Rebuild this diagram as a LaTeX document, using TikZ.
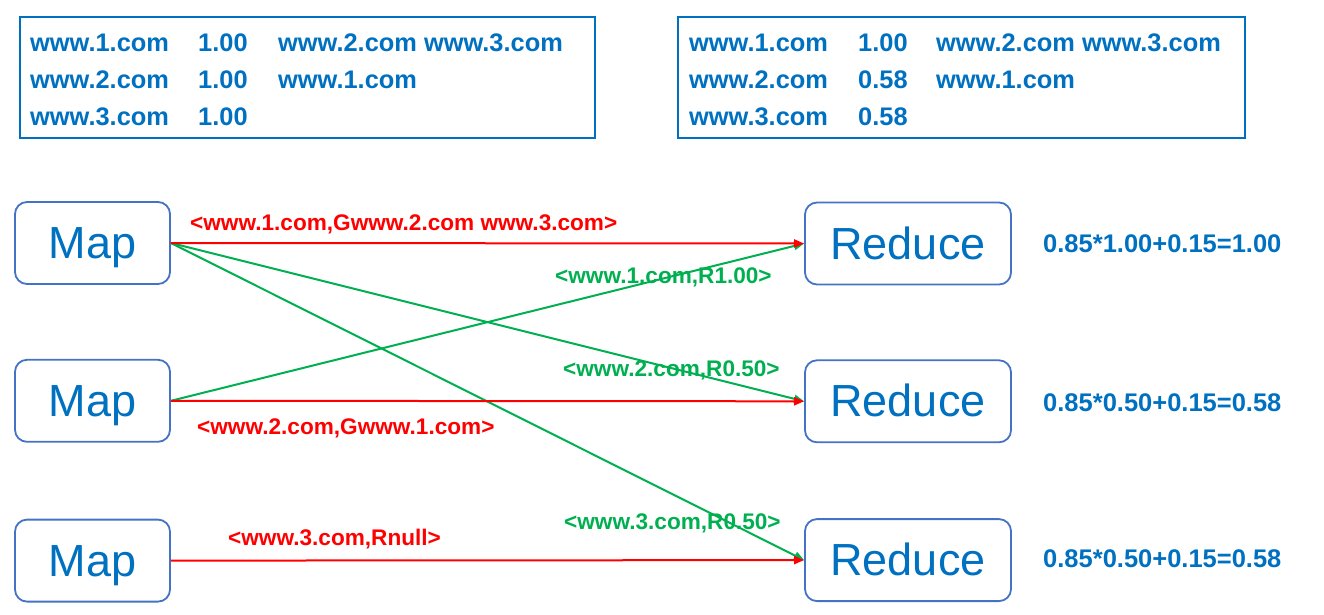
\documentclass[tikz,border=0pt]{standalone}
\usepackage{fontspec}
\setmainfont{Liberation Sans}
\usepackage{xcolor}
\usepackage{tikz}
\usetikzlibrary{arrows.meta, positioning}

\definecolor{txtblue}{HTML}{0070C0}
\definecolor{boxblue}{HTML}{4472C4}
\definecolor{lblred}{HTML}{FF0000}
\definecolor{lblgreen}{HTML}{00B050}

\begin{document}
\begin{tikzpicture}[x=1pt, y=-1pt,
			tablebox/.style={draw=txtblue, line width=2pt, rectangle, minimum height=121pt},
			entry/.style={anchor=base west, inner sep=0pt, text=txtblue, font=\fontsize{25.4}{30}\selectfont\bfseries},
			mapbox/.style={draw=boxblue, line width=1.8pt, rounded corners=12pt, minimum width=155pt, minimum height=82pt, text=txtblue, text height=31pt, text depth=0pt, font=\fontsize{45}{50}\selectfont},
			reducebox/.style={mapbox, minimum width=206pt},
			redlbl/.style={anchor=base west, inner sep=0pt, text=lblred, font=\fontsize{22.6}{26}\selectfont\bfseries},
			greenlbl/.style={redlbl, text=lblgreen},
			sumlbl/.style={entry, font=\fontsize{25.5}{30}\selectfont\bfseries},
			flow/.style={line width=2pt, -{Triangle[length=10pt, width=8pt]}}
			]
			\useasboundingbox (0,0) rectangle (1324,615);

			% page rank tables
			\node [tablebox, minimum width=575pt](t1) at (307.5,77.5) {};
			\node [tablebox, minimum width=567pt](t2) at (961.5,77.5) {};

			\node [entry](a11) at (30,52) {www.1.com};
			\node [entry](a12) at (198,52) {1.00};
			\node [entry](a13) at (278,52) {www.2.com www.3.com};
			\node [entry](a21) at (30,88.5) {www.2.com};
			\node [entry](a22) at (198,88.5) {1.00};
			\node [entry](a23) at (278,88.5) {www.1.com};
			\node [entry](a31) at (30,125) {www.3.com};
			\node [entry](a32) at (198,125) {1.00};

			\node [entry](b11) at (689,52) {www.1.com};
			\node [entry](b12) at (858,52) {1.00};
			\node [entry](b13) at (936,52) {www.2.com www.3.com};
			\node [entry](b21) at (689,88.5) {www.2.com};
			\node [entry](b22) at (858,88.5) {0.58};
			\node [entry](b23) at (936,88.5) {www.1.com};
			\node [entry](b31) at (689,125) {www.3.com};
			\node [entry](b32) at (858,125) {0.58};

			% map and reduce tasks
			\node [mapbox](m1) at (92.5,243) {Map};
			\node [mapbox](m2) [below=74pt of m1] {Map};
			\node [mapbox](m3) [below=76pt of m2] {Map};
			\node [reducebox](r1) at (908,243.5) {Reduce};
			\node [reducebox](r2) [below=74pt of r1] {Reduce};
			\node [reducebox](r3) [below=75pt of r2] {Reduce};

			\node [sumlbl](s1) at (1043,252) {0.85*1.00+0.15=1.00};
			\node [sumlbl](s2) at (1043,411) {0.85*0.50+0.15=0.58};
			\node [sumlbl](s3) at (1043,567) {0.85*0.50+0.15=0.58};

			\draw[flow, lblgreen] (m1.east) -- (r2.west);
			\draw[flow, lblgreen] (m1.east) -- (r3.west);
			\draw[flow, lblgreen] (m2.east) -- (r1.west);
			\draw[flow, lblred] (m1.east) -- (r1.west);
			\draw[flow, lblred] (m2.east) -- (r2.west);
			\draw[flow, lblred] (m3.east) -- (r3.west);

			% key value pairs
			\node [redlbl](k1) at (190,230.5) {<www.1.com,Gwww.2.com www.3.com>};
			\node [greenlbl](k2) at (555,283) {<www.1.com,R1.00>};
			\node [greenlbl](k3) at (563,376) {<www.2.com,R0.50>};
			\node [redlbl](k4) at (197,434) {<www.2.com,Gwww.1.com>};
			\node [greenlbl](k5) at (564,529) {<www.3.com,R0.50>};
			\node [redlbl](k6) at (228,545) {<www.3.com,Rnull>};
		\end{tikzpicture}
\end{document}
